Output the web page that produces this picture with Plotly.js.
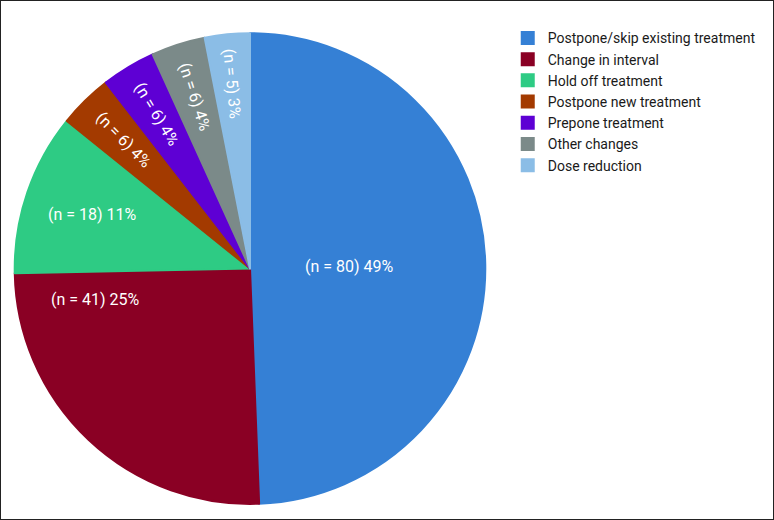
<!DOCTYPE html>
<html>
<head>
<meta charset="utf-8">
<script src="https://cdn.plot.ly/plotly-3.0.1.min.js"></script>
<style>
  body { margin: 0; background: #fff; }
  #chart { width: 774px; height: 520px; }
</style>
</head>
<body>
<div id="chart"></div>
<script>
// Treatment changes, counts per category
const labels = [
    'Postpone/skip existing treatment',
    'Change in interval',
    'Hold off treatment',
    'Postpone new treatment',
    'Prepone treatment',
    'Other changes',
    'Dose reduction'
];
const counts = [80, 41, 18, 6, 6, 6, 5];
const percents = [49, 25, 11, 4, 4, 4, 3];
const colors = ['#3580d5', '#8a0024', '#2ecb84', '#a33a00', '#5e00d4', '#7b8a89', '#8bbde6'];

let sliceText = counts.map((n, i) => `(n = ${n}) ${percents[i]}%`);

// the three big horizontal labels are placed by hand (the original puts them
// off the slice bisector), the thin slices keep the pie's own radial text
const placed = [
    { i: 0, x: 0.452, y: 0.488 },
    { i: 1, x: 0.123, y: 0.425 },
    { i: 2, x: 0.120, y: 0.587 }
];
let pieText = sliceText.map((t, i) => placed.some(p => p.i === i) ? '' : t);

let trace = {
    type: 'pie',
    labels: labels,
    values: counts,
    text: pieText,
    textinfo: 'text',
    texttemplate: '%{text}',
    textposition: 'inside',
    insidetextorientation: 'auto',
    hoverinfo: 'none',
    sort: false,
    direction: 'clockwise',
    rotation: 0,
    marker: {
        colors: colors,
        line: { color: colors, width: 2 }
    },
    insidetextfont: { family: 'Roboto, sans-serif', size: 16, color: '#ffffff' },
    domain: { x: [0.018, 0.628], y: [0.031, 0.936] }
};

let layout = {
    width: 774,
    height: 520,
    margin: { l: 0, r: 0, t: 0, b: 0 },
    paper_bgcolor: '#ffffff',
    showlegend: true,
    uniformtext: { minsize: 16, mode: 'show' },
    legend: {
        x: 0.656,
        y: 0.957,
        xanchor: 'left',
        yanchor: 'top',
        font: { family: 'Roboto, sans-serif', size: 14, color: '#1a1a1a' },
        bgcolor: 'rgba(0,0,0,0)'
    },
    annotations: placed.map(p => ({
        xref: 'paper', yref: 'paper',
        x: p.x, y: p.y,
        xanchor: 'center', yanchor: 'middle',
        text: sliceText[p.i],
        showarrow: false,
        font: { family: 'Roboto, sans-serif', size: 16, color: '#ffffff' }
    })),
    shapes: [{
        type: 'rect',
        xref: 'paper', yref: 'paper',
        x0: 0, x1: 1, y0: 0, y1: 1,
        line: { color: '#222222', width: 2 }
    }]
};

Plotly.newPlot('chart', [trace], layout, { displayModeBar: false, staticPlot: true });
</script>
</body>
</html>
